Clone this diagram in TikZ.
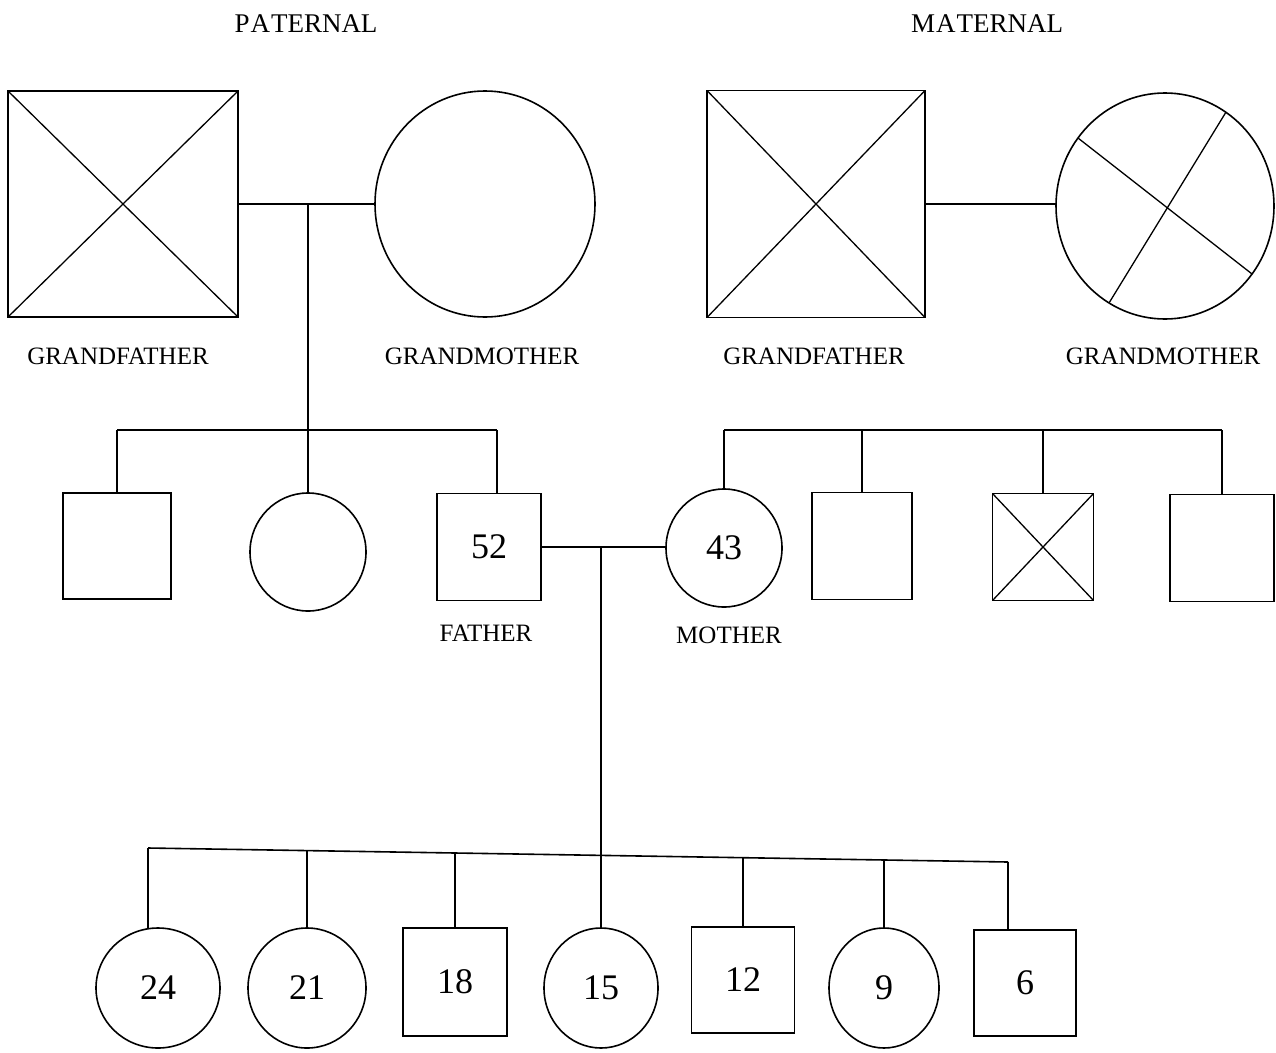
\documentclass[tikz,border=0pt]{standalone}
\usepackage{fontspec}
\setmainfont{Liberation Serif}
\usetikzlibrary{shapes.geometric,calc}
\begin{document}
\begin{tikzpicture}[x=1pt,y=-1pt,line width=1.6pt,
  male/.style={draw,rectangle,inner sep=0pt,outer sep=0pt},
  female/.style={draw,ellipse,inner sep=0pt,outer sep=0pt},
  sz/.style 2 args={minimum width=#1pt,minimum height=#2pt},
  lbl/.style={inner sep=0pt,font=\fontsize{25}{30}\selectfont},
  head/.style={inner sep=0pt,font=\fontsize{27}{32}\selectfont},
  age/.style={font=\fontsize{36}{40}\selectfont},
  cross/.style={line width=1.3pt}]
\useasboundingbox (0,0) rectangle (1276,1052);
% headings
\node[head] (hp) at (306,24) {P\kern1pt A\kern1pt TERNAL};
\node[head] (hm) at (987,24) {M\kern1pt A\kern1pt TERNAL};
% grandparents
\node[male,sz={230}{226}] (pgf) at (123,204) {};
\node[female,sz={220}{226}] (pgm) at (485,204) {};
\node[male,sz={218}{227}] (mgf) at (816,204) {};
\node[female,sz={218}{226}] (mgm) at (1165,206) {};
\draw[cross] (pgf.north west) -- (pgf.south east) (pgf.north east) -- (pgf.south west);
\draw[cross] (mgf.north west) -- (mgf.south east) (mgf.north east) -- (mgf.south west);
\draw[cross] (mgm.142) -- (mgm.-38) (mgm.57) -- (mgm.240);
\node[lbl] (l1) at (118,356) {GRANDFATHER};
\node[lbl] (l2) at (482,356) {GRANDMOTHER};
\node[lbl] (l3) at (814,356) {GRANDFATHER};
\node[lbl] (l4) at (1163,356) {GRANDMOTHER};
\draw (pgf.east) -- (pgm.west);
\draw (mgf.east) -- (mgm.west |- mgf.east);
% second generation
\node[male,sz={108}{106}] (ps1) at (117,546) {};
\node[female,sz={116}{118}] (ps2) at (308,552) {};
\node[male,sz={104}{107}] (father) at (489,547) {};
\node[age] at (father.center) {52};
\node[female,sz={116}{118}] (mother) at (724,548) {};
\node[age] at (mother.center) {43};
\node[male,sz={100}{107}] (ms1) at (862,546) {};
\node[male,sz={101}{107}] (ms2) at (1043,547) {};
\node[male,sz={104}{107}] (ms3) at (1222,548) {};
\draw[cross] (ms2.north west) -- (ms2.south east) (ms2.north east) -- (ms2.south west);
\node[lbl] (lf) at (486,633) {FATHER};
\node[lbl] (lm) at (729,635) {MOTHER};
% paternal sibship
\coordinate (pj) at (308,204);
\coordinate (pbar) at (308,430);
\draw (pj) -- (ps2.north);
\draw (ps1.north |- pbar) -- (497,430);
\draw (ps1.north |- pbar) -- (ps1.north);
\draw (497,430) -- (497,493.5);
% maternal sibship
\coordinate (mbar) at (724,430);
\draw (mother.north |- mbar) -- (ms3.north |- mbar);
\foreach \nd in {mother,ms1,ms2,ms3} \draw (\nd.north |- mbar) -- (\nd.north);
% marriage of parents
\draw (father.east) -- (father.east -| mother.west);
\coordinate (fj) at ($(father.east)!0.48!(father.east -| mother.west)$);
% children
\node[female,sz={124}{120}] (c24) at (158,988) {};
\node[age] at (c24.center) {24};
\node[female,sz={118}{120}] (c21) at (307,988) {};
\node[age] at (c21.center) {21};
\node[male,sz={104}{108}] (c18) at (455,982) {};
\node[age] at (c18.center) {18};
\node[female,sz={114}{120}] (c15) at (601,988) {};
\node[age] at (c15.center) {15};
\node[male,sz={103}{106}] (c12) at (743,980) {};
\node[age] at (c12.center) {12};
\node[female,sz={110}{120}] (c9) at (884,988) {};
\node[age] at (c9.center) {9};
\node[male,sz={102}{106}] (c6) at (1025,983) {};
\node[age] at (c6.center) {6};
\coordinate (bl) at (148,848);
\coordinate (br) at (1008,862);
\draw (bl) -- (br);
\draw (fj) -- (fj |- c15.north);
\draw (bl) -- ($(bl |- c24.north)+(0,1)$);
\draw (c21.north |- 0,850.6) -- (c21.north);
\draw (c18.north |- 0,853.0) -- (c18.north);
\draw (c12.north |- 0,857.7) -- (c12.north);
\draw (c9.north |- 0,860.0) -- (c9.north);
\draw (br) -- (br |- c6.north);
\end{tikzpicture}
\end{document}
